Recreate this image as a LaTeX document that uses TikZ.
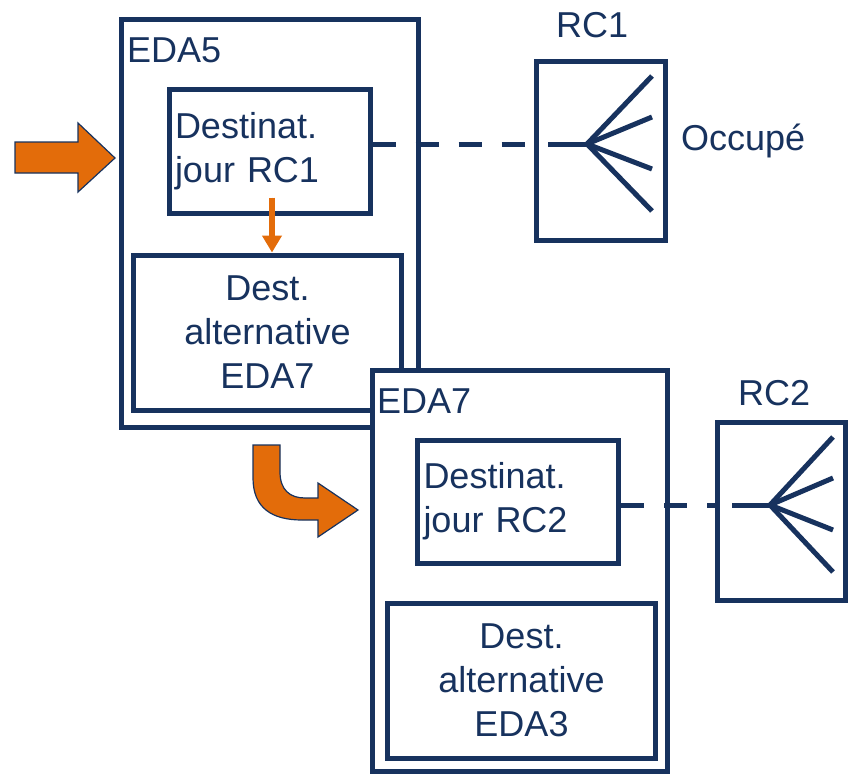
\documentclass[tikz,border=0pt]{standalone}
\usepackage{fontspec}
\setmainfont{Liberation Sans}
\usepackage{tikz}
\usetikzlibrary{
  arrows.meta,
  positioning,
  calc
}
\definecolor{navy}{RGB}{23,50,94}
\definecolor{orangeA}{RGB}{227,108,10}
\newcommand{\bigtxt}{\fontsize{36bp}{44bp}\selectfont}

\begin{document}
\begin{tikzpicture}[x=1bp, y=-1bp, >=Triangle,
  box/.style={draw=navy, line width=5bp, fill=white, inner sep=0pt},
  destbox/.style={box, minimum width=201bp, minimum height=123bp,
    text width=189bp, inner xsep=6bp, align=left, font=\bigtxt, text=navy},
  altbox/.style={box, minimum width=268bp, minimum height=155bp,
    text width=256bp, align=center, font=\bigtxt, text=navy},
  lbl/.style={font=\bigtxt, text=navy, inner sep=0pt, anchor=base west},
  dashline/.style={draw=navy, line width=5bp, dash pattern=on 23bp off 20bp},
  fan/.style={draw=navy, line width=5bp},
  blockarrow/.style={fill=orangeA, draw=navy, line width=1.2bp, line join=miter}]
\useasboundingbox (0,0) rectangle (848,775);

% premier EDA
\node[box, minimum width=296bp, minimum height=407bp] (eda5) at (270,223.5) {};
\node[lbl] (eda5lbl) at (127,63) {EDA5};
\node[destbox] (dest1) at (269.5,151.5) {Destinat.\\jour RC1};
\node[altbox] (alt1) at (267.5,332.5) {Dest.\\alternative\\EDA7};
\coordinate (drop) at ($(dest1.south)+(2.5,-18)$);
\draw[->, draw=orangeA, fill=orangeA, line width=6bp, >={Triangle[length=17bp, width=19bp]}]
  (drop) -- (drop |- alt1.north);

% second EDA
\node[box, minimum width=295bp, minimum height=401bp] (eda7) at (519.5,571) {};
\node[lbl] (eda7lbl) at (377,413) {EDA7};
\node[destbox] (dest2) at (518,501.5) {Destinat.\\jour RC2};
\node[altbox] (alt2) at (521.5,680.5) {Dest.\\alternative\\EDA3};

% centres RC
\node[box, minimum width=129bp, minimum height=178bp] (rc1) at (600.5,151) {};
\node[box, minimum width=128bp, minimum height=178bp] (rc2) at (781,511) {};
\node[lbl] (rc1lbl) at (556,38) {RC1};
\node[lbl] (rc2lbl) at (738,405) {RC2};
\node[lbl] (occ) at (681,150) {Occupé};

\coordinate (hub1) at ($(rc1.center)+(-13.5,-7)$);
\coordinate (hub2) at ($(rc2.center)+(-11,-6)$);
\coordinate (stub1) at ($(hub1)+(-39,0)$);
\coordinate (stub2) at ($(hub2)+(-38,0)$);

\draw[dashline] (dest1.east |- hub1) -- (hub1 -| rc1.west);
\draw[dashline] (dest2.east |- hub2) -- (hub2 -| rc2.west);
\draw[fan] (stub1) -- (hub1);
\draw[fan] (stub2) -- (hub2);
\foreach \dy in {-68,-27,25,67} {
  \draw[fan] (hub1) -- ++(65,\dy);
  \draw[fan] (hub2) -- ++(63,\dy);
}

% fleches oranges
\draw[blockarrow] (15,142) -- (78,142) -- (78,123) -- (115,158)
  -- (78,192) -- (78,173) -- (15,173) -- cycle;
\draw[blockarrow] (253,445) -- (253,478) .. controls (253,508) and (272,520) .. (302,520)
  -- (318,520) -- (318,537) -- (358,510) -- (318,483) -- (318,498) -- (305,498)
  .. controls (290,498) and (280,490) .. (280,472) -- (280,445) -- cycle;
\end{tikzpicture}
\end{document}
